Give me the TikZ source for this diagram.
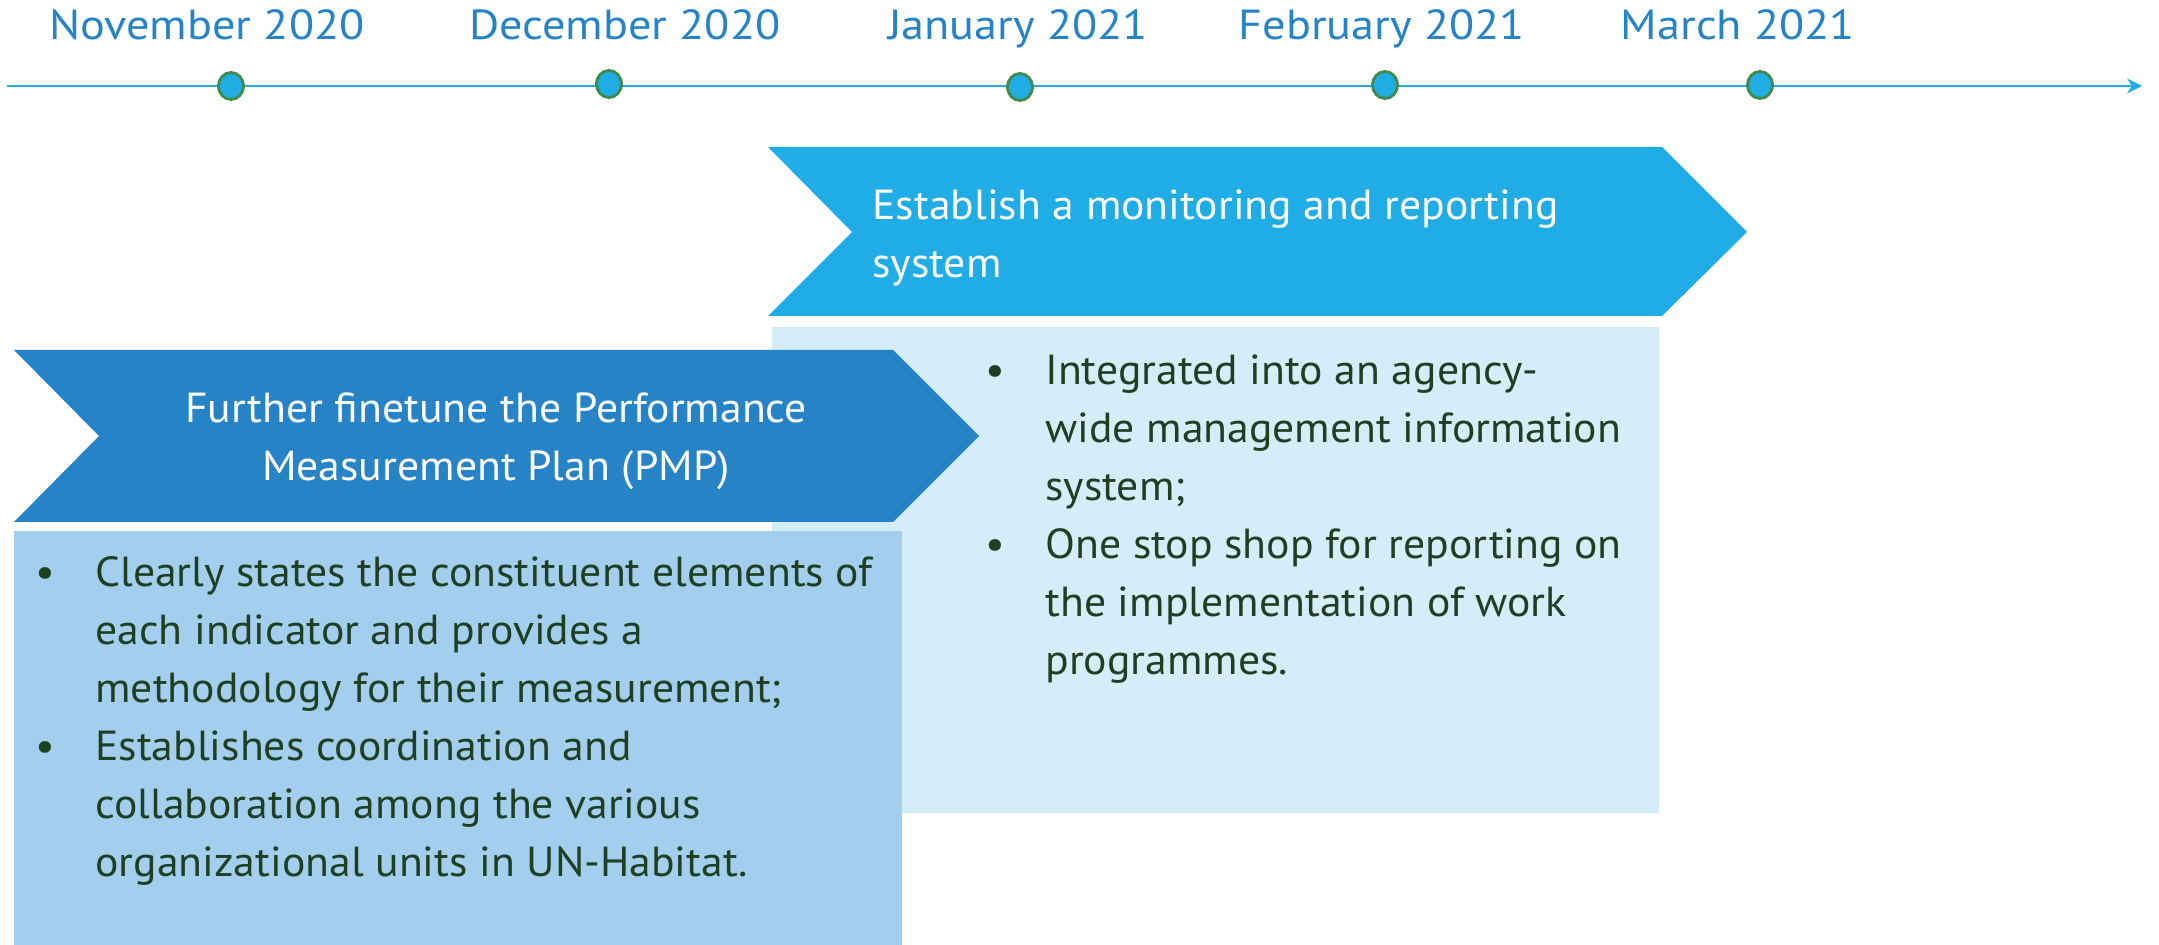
\documentclass[tikz,border=0pt]{standalone}
\usepackage{fontspec}
\setmainfont{PT Sans}[FakeStretch=1.04]
\newfontfamily\monthfont{PT Sans}[FakeStretch=1.1]
\usetikzlibrary{arrows.meta,shapes.geometric}

\definecolor{lineblue}{HTML}{1FADE3}
\definecolor{dotring}{HTML}{3F8A4C}
\definecolor{monthblue}{HTML}{2683C6}
\definecolor{chevtop}{HTML}{20ACE4}
\definecolor{boxtop}{HTML}{D3EEF9}
\definecolor{chevlow}{HTML}{2683C6}
\definecolor{boxlow}{HTML}{A4CEED}
\definecolor{bodytext}{HTML}{1E3F22}

% one bulleted paragraph with a hanging indent; lines broken by \newline
\newcommand{\bitem}[1]{\noindent\hangindent=30pt\hangafter=1\makebox[30pt][l]{\textbullet}#1\par}

\tikzset{
  month/.style={anchor=base, inner sep=0pt, text=monthblue, font=\monthfont\fontsize{21}{29}\selectfont},
  tick/.style={ellipse, minimum width=12.5pt, minimum height=13.5pt, inner sep=0pt,
               fill=lineblue, draw=dotring, line width=1.4pt},
  banner/.style={inner sep=0pt, text=white, font=\fontsize{21}{29}\selectfont},
  bullets/.style={anchor=base west, inner sep=0pt, text=bodytext, font=\fontsize{21}{29}\selectfont},
}

\begin{document}
\begin{tikzpicture}[x=0.5pt, y=-0.5pt]
  \useasboundingbox (0,0) rectangle (2159,945);

  % timeline axis
  \coordinate (tlstart) at (7,86);
  \coordinate (tlend) at (2142,86);
  \draw[lineblue, line width=1.3pt, -{Stealth[length=7.5pt, width=7.5pt, inset=2.5pt]}] (tlstart) -- (tlend);

  % month ticks
  \node[tick] (dnov) at (231,86) {};
  \node[tick] (ddec) at (609,84) {};
  \node[tick] (djan) at (1020,87) {};
  \node[tick] (dfeb) at (1385,85) {};
  \node[tick] (dmar) at (1760,85) {};

  % month labels
  \node[month] (lnov) at (207,40) {November 2020};
  \node[month] (ldec) at (625,40) {December 2020};
  \node[month] (ljan) at (1018,40) {January 2021};
  \node[month] (lfeb) at (1382,40) {February 2021};
  \node[month] (lmar) at (1738,40) {March 2021};

  % second phase: banner and detail panel
  \fill[chevtop] (768,147) -- (1662,147) -- (1747,232) -- (1662,316) -- (768,316) -- (852,232) -- cycle;
  \fill[boxtop] (772,327) rectangle (1659,813);

  % first phase: banner and detail panel
  \fill[chevlow] (14,350) -- (893,350) -- (979,436) -- (893,522) -- (14,522) -- (99,436) -- cycle;
  \fill[boxlow] (14,531) rectangle (902,945);

  % banner captions
  \node[banner, anchor=base west] (ttop) at (872,220)
    {\parbox[t]{420pt}{\raggedright Establish a monitoring and reporting\\system}};
  \node[banner, anchor=base] (tlow) at (496,423)
    {\parbox[t]{420pt}{\centering Further finetune the Performance\\Measurement Plan (PMP)}};

  % panel bullet lists
  \node[bullets] (btop) at (985,385)
    {\parbox[t]{420pt}{\raggedright
      \bitem{Integrated into an agency-\newline wide management information\newline system;}
      \bitem{One stop shop for reporting on\newline the implementation of work\newline programmes.}}};
  \node[bullets] (blow) at (35,587)
    {\parbox[t]{460pt}{\raggedright
      \bitem{Clearly states the constituent elements of\newline each indicator and provides a\newline methodology for their measurement;}
      \bitem{Establishes coordination and\newline collaboration among the various\newline organizational units in UN-Habitat.}}};
\end{tikzpicture}
\end{document}
